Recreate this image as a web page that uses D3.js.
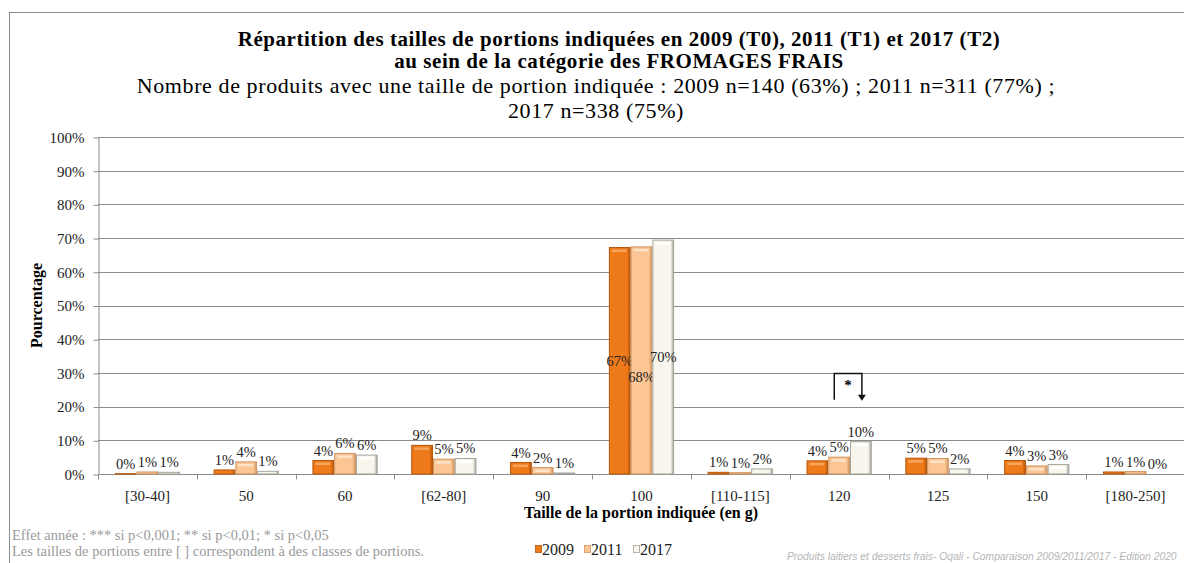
<!DOCTYPE html>
<html>
<head>
<meta charset="utf-8">
<script src="https://cdn.jsdelivr.net/npm/d3@7"></script>
<style>
  body { margin: 0; background: #fff; }
  svg { display: block; font-family: "Liberation Serif", serif; }
  .grid line { stroke: #8c8c8c; }
  .axis path, .axis line { stroke: #8c8c8c; }
  .axis text { fill: #222; }
</style>
</head>
<body>
<svg width="1184" height="563"></svg>
<script>
// portion size classes (x axis)
const categories = ["[30-40]", "50", "60", "[62-80]", "90", "100", "[110-115]", "120", "125", "150", "[180-250]"];
const years = ["2009", "2011", "2017"];

// shares (%), one array per year
const values2009 = [0.1, 1.2, 4.0, 8.5, 3.4, 67.2, 0.5, 3.9, 4.7, 4.0, 0.6];
const values2011 = [0.6, 3.6, 6.1, 4.4, 1.9, 67.4, 0.4, 5.0, 4.6, 2.4, 0.7];
const values2017 = [0.5, 0.8, 5.6, 4.6, 0.3, 69.4, 1.5, 9.6, 1.5, 2.8, 0.0];

// rounded labels shown on the bars
const labels2009 = ["0%", "1%", "4%", "9%", "4%", "67%", "1%", "4%", "5%", "4%", "1%"];
const labels2011 = ["1%", "4%", "6%", "5%", "2%", "68%", "1%", "5%", "5%", "3%", "1%"];
const labels2017 = ["1%", "1%", "6%", "5%", "1%", "70%", "2%", "10%", "2%", "3%", "0%"];

const yTicks = [0, 10, 20, 30, 40, 50, 60, 70, 80, 90, 100];

// significance marks: category, label
const sigMarks = [{ cat: "120", text: "*" }];

const series = [
  { year: "2009", values: values2009, labels: labels2009, base: "#ef7a1a", edge: "#b5560a", light: "#f6a55e" },
  { year: "2011", values: values2011, labels: labels2011, base: "#fbc693", edge: "#cf9562", light: "#fde3c8" },
  { year: "2017", values: values2017, labels: labels2017, base: "#f8f6ec", edge: "#a5a49c", light: "#ffffff" }
];

const svg = d3.select("svg");

// outer frame
svg.append("rect")
  .attr("x", 9.5).attr("y", 12.5)
  .attr("width", 1300).attr("height", 700)
  .attr("fill", "none").attr("stroke", "#8c8c8c");

// gradients for the bevelled bars
const defs = svg.append("defs");
series.forEach((s, i) => {
  const g = defs.append("linearGradient").attr("id", "grad" + i)
    .attr("x1", "0").attr("x2", "1").attr("y1", "0").attr("y2", "0");
  g.append("stop").attr("offset", "0").attr("stop-color", s.base);
  g.append("stop").attr("offset", "0.5").attr("stop-color", s.base);
  g.append("stop").attr("offset", "0.85").attr("stop-color", s.base);
  g.append("stop").attr("offset", "1").attr("stop-color", s.edge);
});

const plotLeft = 98, plotRight = 1185, plotTop = 137, plotBottom = 474;

const x = d3.scaleBand().domain(categories).range([plotLeft, plotRight])
  .paddingInner(0.34).paddingOuter(0.17);
const xOuter = d3.scaleBand().domain(categories).range([plotLeft, plotRight]).padding(0);
const xSub = d3.scaleBand().domain(years).range([0, x.bandwidth()]);
const y = d3.scaleLinear().domain([0, 100]).range([plotBottom, plotTop]);

// titles
const title = svg.append("g").attr("text-anchor", "middle");
title.append("text").attr("x", 619).attr("y", 46)
  .attr("font-weight", "bold").attr("font-size", 21).attr("letter-spacing", 0.55)
  .text("Répartition des tailles de portions indiquées en 2009 (T0), 2011 (T1) et 2017 (T2)");
title.append("text").attr("x", 619).attr("y", 68)
  .attr("font-weight", "bold").attr("font-size", 21).attr("letter-spacing", 0.55)
  .text("au sein de la catégorie des FROMAGES FRAIS");
title.append("text").attr("x", 596).attr("y", 93)
  .attr("font-size", 22).attr("letter-spacing", 0.6)
  .text("Nombre de produits avec une taille de portion indiquée : 2009 n=140 (63%) ; 2011 n=311 (77%) ;");
title.append("text").attr("x", 596).attr("y", 118)
  .attr("font-size", 22).attr("letter-spacing", 0.6)
  .text("2017 n=338 (75%)");

// horizontal gridlines
svg.append("g").attr("class", "grid")
  .selectAll("line")
  .data(yTicks.slice(1))
  .join("line")
  .attr("x1", plotLeft).attr("x2", 1184)
  .attr("y1", d => Math.round(y(d)) + 0.5).attr("y2", d => Math.round(y(d)) + 0.5);

// y axis
const axisY = d3.axisLeft(y)
  .tickValues(yTicks)
  .tickFormat(d => d + "%")
  .tickSize(5)
  .tickSizeOuter(0)
  .tickPadding(9);
svg.append("g").attr("class", "axis")
  .attr("transform", `translate(${plotLeft + 0.5},0.5)`)
  .call(axisY)
  .call(g => g.selectAll("text").attr("font-size", 15).attr("font-family", "Liberation Serif"));

// x axis: ticks between categories
const axisX = d3.axisBottom(xOuter).tickSize(0).tickPadding(16);
const gx = svg.append("g").attr("class", "axis")
  .attr("transform", `translate(0,${plotBottom + 0.5})`)
  .call(axisX);
gx.select(".domain").attr("d", `M${plotLeft},0H1184`);
gx.selectAll("text").attr("font-size", 15).attr("font-family", "Liberation Serif");
gx.selectAll("line.sep")
  .data(categories)
  .join("line")
  .attr("class", "sep")
  .attr("x1", d => Math.round(xOuter(d)) + 0.5)
  .attr("x2", d => Math.round(xOuter(d)) + 0.5)
  .attr("y1", 0).attr("y2", 5)
  .attr("stroke", "#8c8c8c");

// bars
series.forEach((s, i) => {
  const gs = svg.append("g").attr("class", "series");
  const rows = categories.map((c, j) => ({ cat: c, v: s.values[j], label: s.labels[j] }));
  const bx = d => x(d.cat) + xSub(s.year);
  const bw = xSub.bandwidth();

  gs.selectAll("rect.bar")
    .data(rows.filter(d => d.v > 0))
    .join("rect")
    .attr("class", "bar")
    .attr("x", d => bx(d) + 0.5)
    .attr("y", d => y(d.v))
    .attr("width", bw - 1)
    .attr("height", d => y(0) - y(d.v))
    .attr("fill", `url(#grad${i})`)
    .attr("stroke", s.edge)
    .attr("stroke-width", 1);

  // top highlight of the bevel
  gs.selectAll("rect.hl")
    .data(rows.filter(d => y(0) - y(d.v) > 6))
    .join("rect")
    .attr("class", "hl")
    .attr("x", d => bx(d) + 3)
    .attr("y", d => y(d.v) + 2)
    .attr("width", bw - 7)
    .attr("height", 2.5)
    .attr("fill", s.light);

  // value labels
  gs.selectAll("text")
    .data(rows)
    .join("text")
    .attr("text-anchor", "middle")
    .attr("font-size", 14.5)
    .attr("fill", "#222")
    .attr("x", d => bx(d) + bw / 2)
    .attr("y", d => d.v > 50 ? y(d.v / 2) + 5 + (i === 1 ? 17 : 0) : y(d.v) - 5)
    .text(d => d.label);
});

// significance bracket
sigMarks.forEach(m => {
  const x1 = x(m.cat) + xSub("2011") + 6;
  const x2 = x(m.cat) + xSub("2017") + xSub.bandwidth() / 2 + 1;
  const yt = y(30) + 0.5, yb = y(22);
  const g = svg.append("g");
  g.append("path")
    .attr("d", `M${x1},${yb}V${yt}H${x2}V${yb - 4}`)
    .attr("fill", "none").attr("stroke", "#111").attr("stroke-width", 1.5);
  g.append("path")
    .attr("d", `M${x2 - 4},${yb - 5}L${x2 + 4},${yb - 5}L${x2},${yb + 1}Z`)
    .attr("fill", "#111");
  g.append("text")
    .attr("x", (x1 + x2) / 2).attr("y", yt + 17)
    .attr("text-anchor", "middle").attr("font-weight", "bold").attr("font-size", 15)
    .text(m.text);
});

// axis titles
svg.append("text")
  .attr("transform", `translate(42,${(plotTop + plotBottom) / 2}) rotate(-90)`)
  .attr("text-anchor", "middle").attr("font-weight", "bold").attr("font-size", 16)
  .text("Pourcentage");
svg.append("text")
  .attr("x", 641).attr("y", 518)
  .attr("text-anchor", "middle").attr("font-weight", "bold").attr("font-size", 16)
  .text("Taille de la portion indiquée (en g)");

// legend
const legend = svg.append("g").attr("transform", "translate(535,549)");
series.forEach((s, i) => {
  const lg = legend.append("g").attr("transform", `translate(${i * 49},0)`);
  lg.append("rect").attr("x", 0.5).attr("y", -3.5).attr("width", 6).attr("height", 7)
    .attr("fill", `url(#grad${i})`).attr("stroke", s.edge).attr("stroke-width", 0.8);
  lg.append("text").attr("x", 7).attr("y", 5.5).attr("font-size", 16).attr("fill", "#222").text(s.year);
});

// footnotes
const notes = svg.append("g").attr("fill", "#9a9a9a").attr("font-size", 14.5);
notes.append("text").attr("x", 12).attr("y", 540)
  .text("Effet année : *** si p<0,001; ** si p<0,01; * si p<0,05");
notes.append("text").attr("x", 12).attr("y", 556)
  .text("Les tailles de portions entre [ ] correspondent à des classes de portions.");
svg.append("text")
  .attr("x", 787).attr("y", 560)
  .attr("font-family", "Liberation Sans").attr("font-style", "italic")
  .attr("font-size", 10.3).attr("fill", "#b5b5b5")
  .text("Produits laitiers et desserts frais- Oqali - Comparaison 2009/2011/2017 - Edition 2020");
</script>
</body>
</html>
